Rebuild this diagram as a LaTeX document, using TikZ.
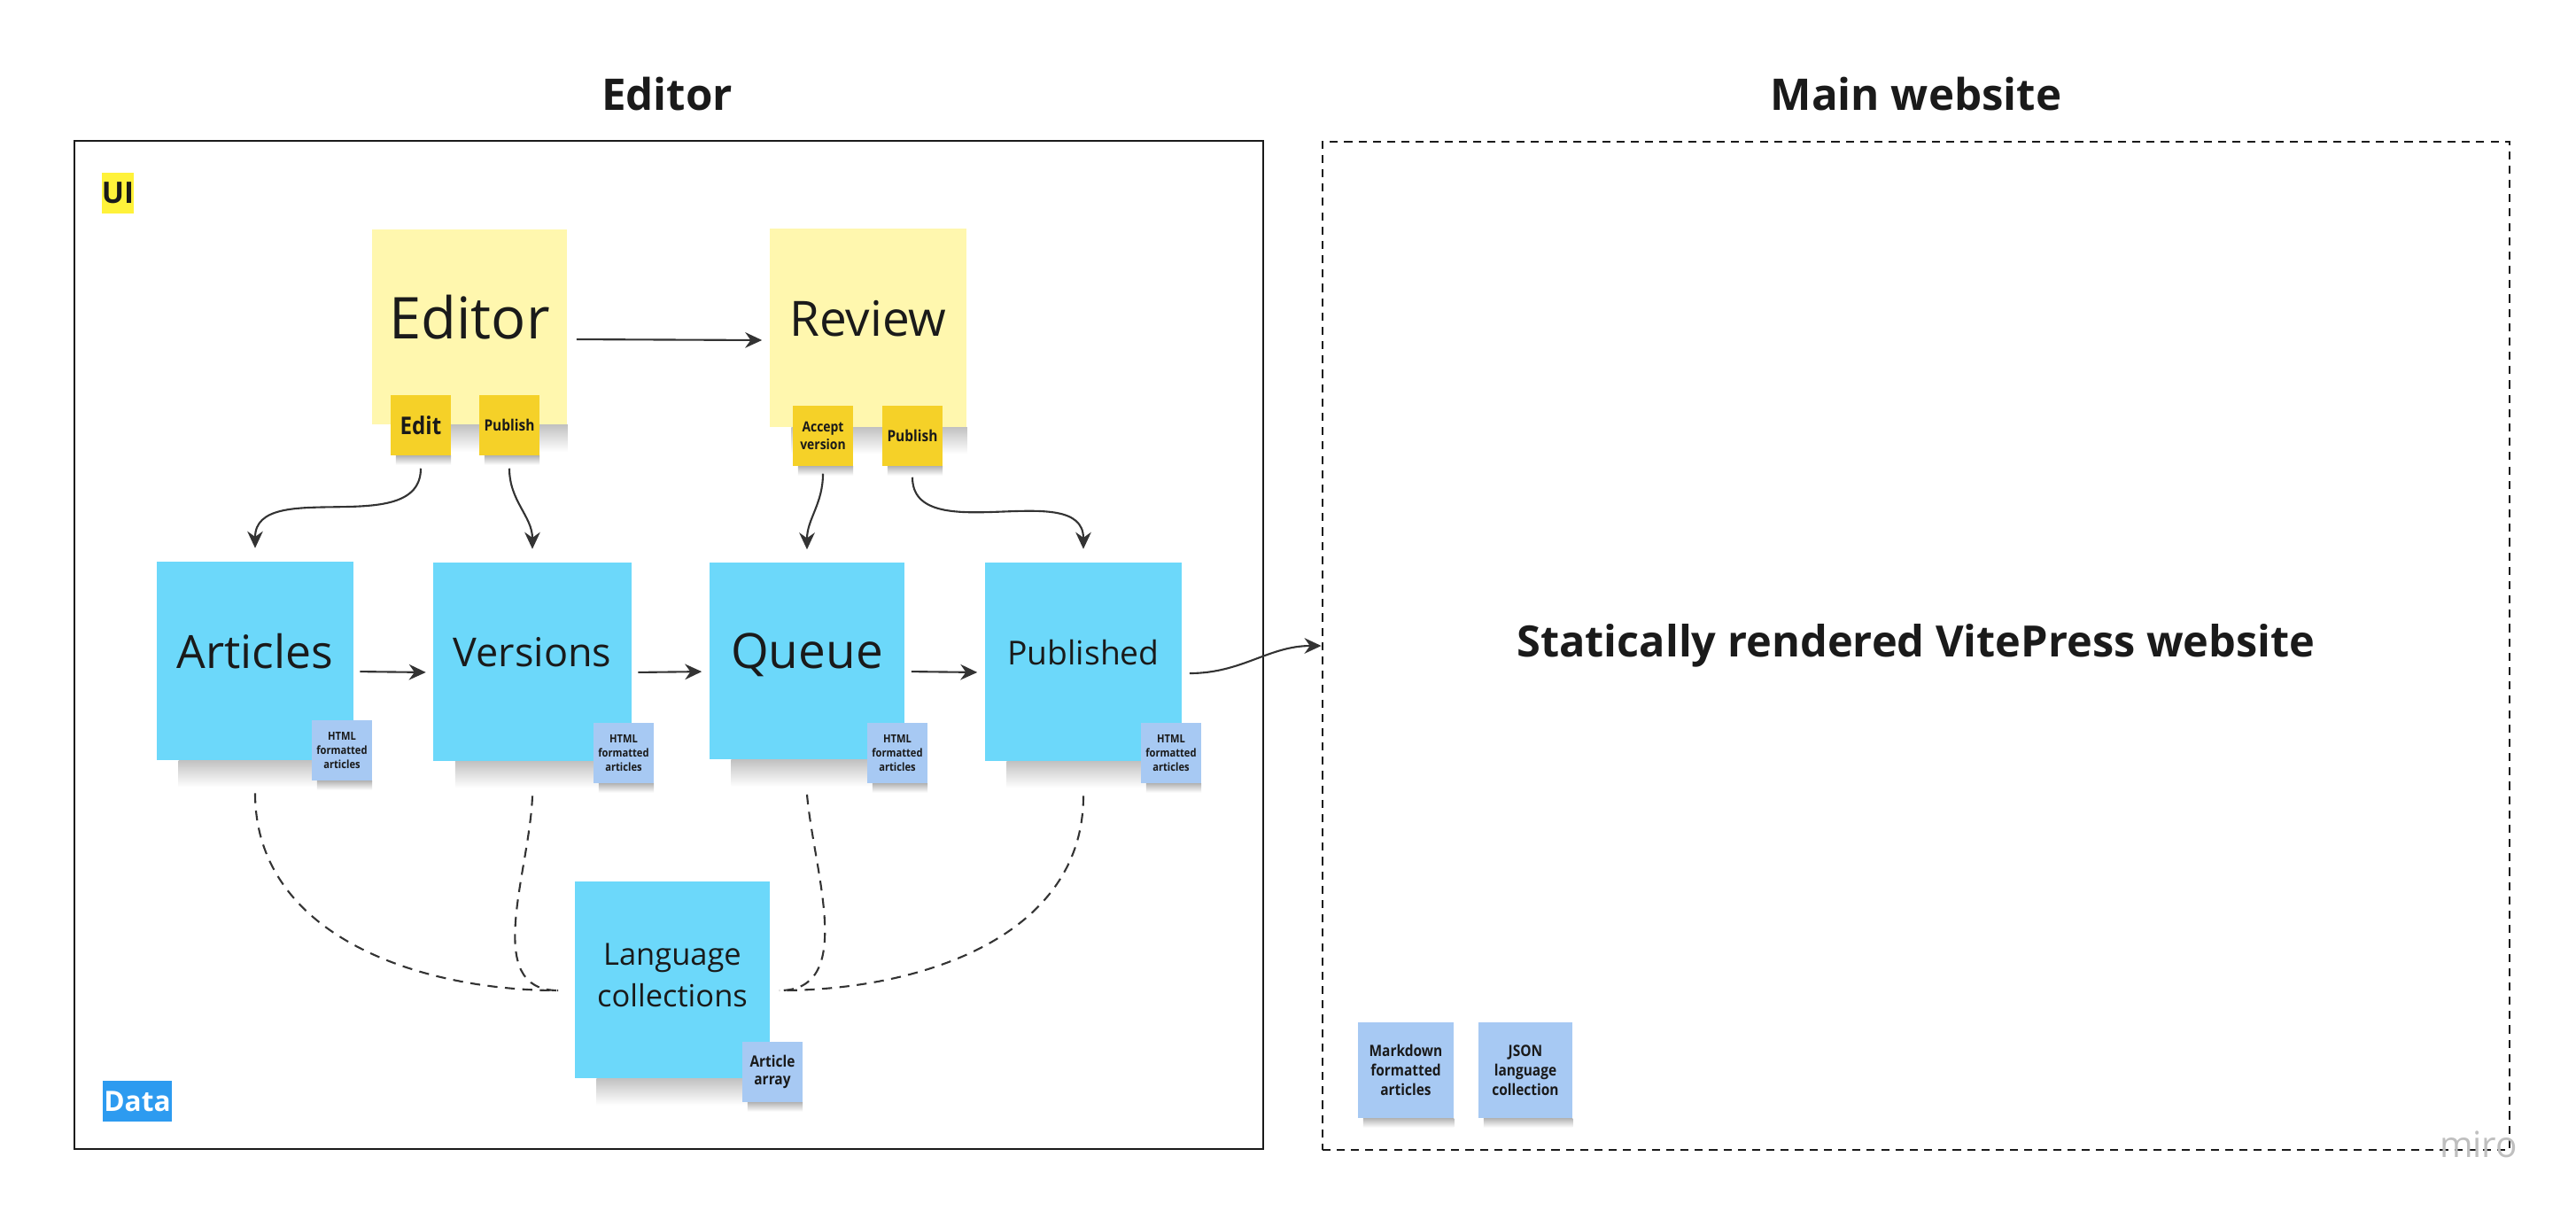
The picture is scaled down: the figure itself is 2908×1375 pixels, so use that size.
\documentclass[tikz,border=0pt]{standalone}
\usepackage{fontspec}
\setmainfont{Open Sans}
\newfontfamily\tagfam{Open Sans}[FakeStretch=0.88]
\usetikzlibrary{arrows.meta}

\definecolor{ink}{HTML}{1A1A1A}
\definecolor{linegray}{HTML}{333333}
\definecolor{noteyellow}{HTML}{FFF7AE}
\definecolor{tagyellow}{HTML}{F5D128}
\definecolor{noteblue}{HTML}{6CD8FA}
\definecolor{tagblue}{HTML}{A7C9F3}
\definecolor{uiyellow}{HTML}{FFF23A}
\definecolor{datablue}{HTML}{2D9BF0}

\tikzset{
    sticky/.style={minimum width=2.2cm, minimum height=2.2cm, inner sep=0pt, align=center, text=ink, text depth=0.22cm},
    ysticky/.style={sticky, fill=noteyellow},
    bsticky/.style={sticky, fill=noteblue},
    tag/.style 2 args={minimum width=0.67cm, minimum height=0.68cm, inner sep=0pt, align=center, text=ink,
        font=\tagfam\bfseries\fontsize{#1}{#2}\selectfont},
    ytag/.style 2 args={tag={#1}{#2}, fill=tagyellow},
    btag/.style 2 args={tag={#1}{#2}, fill=tagblue},
    flow/.style={-{Stealth[length=5.4pt,width=5pt]}, line width=0.6pt, draw=linegray},
    dashlink/.style={line width=0.6pt, draw=linegray, dash pattern=on 3.2pt off 2.4pt},
    sectiontitle/.style={font=\fontsize{14}{16}\selectfont\bfseries, text=ink},
}

\begin{document}
\begin{tikzpicture}[x=0.01cm, y=-0.01cm]
    \useasboundingbox (0,0) rectangle (2908,1375);

    % frames
    \node[draw=ink, line width=0.7pt, minimum width=13.41cm, minimum height=11.37cm] (edframe) at (755,728) {};
    \node[draw=ink, line width=0.6pt, dash pattern=on 2.6pt off 2pt, minimum width=13.40cm, minimum height=11.37cm] (webframe) at (2163,729) {};
    \node[sectiontitle] (edtitle) at (753,106) {Editor};
    \node[sectiontitle] (webtitle) at (2163,106) {Main website};

    \node[fill=uiyellow, minimum width=0.35cm, minimum height=0.46cm, inner sep=0pt, text=ink,
        font=\fontsize{9.5}{10}\selectfont\bfseries] (ui) at (133,218) {UI};
    \node[fill=datablue, minimum width=0.77cm, minimum height=0.46cm, inner sep=0pt, text=white,
        font=\fontsize{9}{10}\selectfont\bfseries] (data) at (155,1243) {Data};

    % sticky notes
    \node[ysticky, font=\fontsize{18.5}{21}\selectfont] (editor) at (530,369) {Editor};
    \node[ysticky, minimum width=2.22cm, minimum height=2.23cm, font=\fontsize{15.6}{18}\selectfont] (review) at (980,370) {Review};
    \node[bsticky, minimum width=2.21cm, minimum height=2.23cm, font=\fontsize{14.7}{17}\selectfont] (articles) at (288,746) {Articles};
    \node[bsticky, minimum width=2.23cm, minimum height=2.23cm, font=\fontsize{12.8}{15}\selectfont] (versions) at (601,747) {Versions};
    \node[bsticky, minimum height=2.22cm, font=\fontsize{15.6}{18}\selectfont] (queue) at (911,746) {Queue};
    \node[bsticky, minimum width=2.22cm, minimum height=2.23cm, font=\fontsize{10.6}{12}\selectfont] (published) at (1223,747) {Published};
    \node[bsticky, minimum height=2.21cm, text depth=0.1cm, font=\fontsize{9.8}{13.4}\selectfont] (lang) at (759,1106) {Language\\collections};

    \foreach \n in {editor,review,articles,versions,queue,published,lang}
        \shade[top color=black!24, bottom color=white] ([xshift=0.25cm]\n.south west) rectangle ([yshift=-0.3cm]\n.south east);

    % tags
    \node[ytag={7.8}{8}] (edittag) at (475,480) {Edit};
    \node[ytag={5}{5.5}] (pubtag) at (575,480) {Publish};
    \node[ytag={4.5}{5.6}] (accepttag) at (929,492) {Accept\\version};
    \node[ytag={5}{5.5}] (pubtagb) at (1030,492) {Publish};
    \node[btag={3.6}{4.5}] (htmla) at (386,847) {HTML\\formatted\\articles};
    \node[btag={3.6}{4.5}] (htmlv) at (704,850) {HTML\\formatted\\articles};
    \node[btag={3.6}{4.5}] (htmlq) at (1013,850) {HTML\\formatted\\articles};
    \node[btag={3.6}{4.5}] (htmlp) at (1322,850) {HTML\\formatted\\articles};
    \node[btag={5}{5.6}] (arraytag) at (872,1210) {Article\\array};
    \node[btag={5}{6.3}, minimum width=1.07cm, minimum height=1.08cm] (mdtag) at (1587,1208) {Markdown\\formatted\\articles};
    \node[btag={5}{6.3}, minimum width=1.05cm, minimum height=1.08cm] (jsontag) at (1722,1208) {JSON\\language\\collection};

    \foreach \n in {edittag,pubtag,accepttag,pubtagb,htmla,htmlv,htmlq,htmlp,arraytag,mdtag,jsontag}
        \shade[top color=black!28, bottom color=white] ([xshift=0.06cm]\n.south west) rectangle ([yshift=-0.1cm]\n.south east);

    \node[font=\fontsize{13.85}{17}\selectfont\bfseries, text=ink] (site) at (webframe.center) {Statically rendered VitePress website};
    \node[text=black!25, font=\fontsize{11.5}{12}\selectfont] (miro) at (2798,1292) {miro};

    % arrows
    \draw[flow, shorten <=0.1cm, shorten >=0.08cm] ([yshift=-0.14cm]editor.east) -- ([yshift=-0.14cm]review.west);
    \draw[flow, shorten <=0.07cm, shorten >=0.08cm] ([yshift=-0.12cm]articles.east) -- ([yshift=-0.12cm]versions.west);
    \draw[flow, shorten <=0.07cm, shorten >=0.08cm] ([yshift=-0.12cm]versions.east) -- ([yshift=-0.12cm]queue.west);
    \draw[flow, shorten <=0.07cm, shorten >=0.08cm] ([yshift=-0.12cm]queue.east) -- ([yshift=-0.12cm]published.west);

    \draw[flow] ([yshift=-0.14cm]edittag.south) to[out=-90,in=90] ([yshift=0.15cm]articles.north);
    \draw[flow] ([yshift=-0.14cm]pubtag.south) to[out=-90,in=90] ([yshift=0.15cm]versions.north);
    \draw[flow] ([yshift=-0.08cm]accepttag.south) to[out=-90,in=90] ([yshift=0.14cm]queue.north);
    \draw[flow] ([yshift=-0.12cm]pubtagb.south) to[out=-90,in=90] ([yshift=0.15cm]published.north);
    \draw[flow] ([shift={(0.08cm,-0.13cm)}]published.east) to[out=0,in=180] (webframe.west);

    % data links
    \draw[dashlink] ([yshift=-0.37cm]articles.south) to[out=-90,in=180] ([shift={(-0.18cm,-0.12cm)}]lang.west);
    \draw[dashlink] ([yshift=-0.39cm]versions.south) to[out=-92,in=180] ([shift={(-0.18cm,-0.12cm)}]lang.west);
    \draw[dashlink] ([yshift=-0.39cm]queue.south) to[out=-85,in=0] ([shift={(0.1cm,-0.12cm)}]lang.east);
    \draw[dashlink] ([yshift=-0.39cm]published.south) to[out=-90,in=0] ([shift={(0.1cm,-0.12cm)}]lang.east);
\end{tikzpicture}
\end{document}
